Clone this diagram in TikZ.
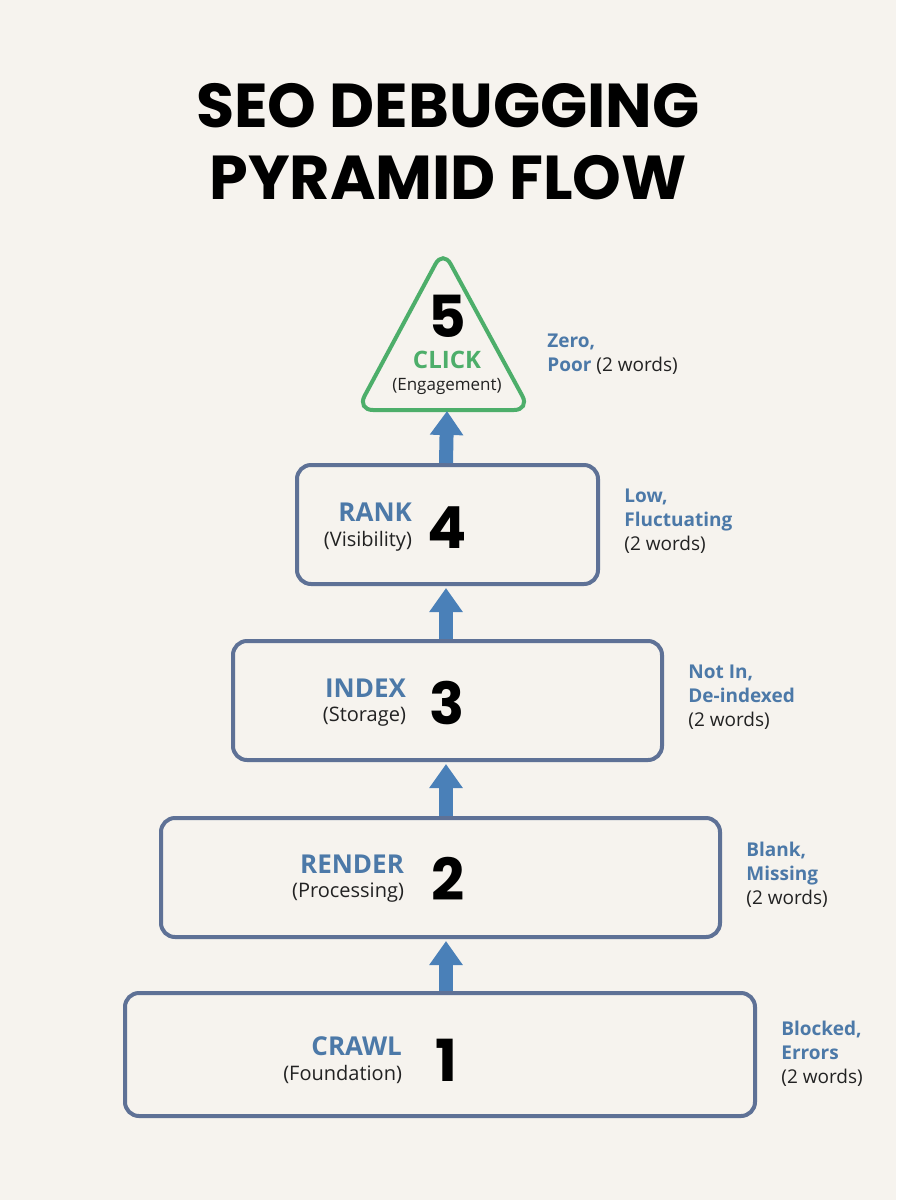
\documentclass[tikz,border=0pt]{standalone}
\usepackage{fontspec}
\setmainfont{Open Sans}
\newfontfamily\titlefont{Poppins}
\usetikzlibrary{arrows.meta,calc}
\definecolor{bgc}{HTML}{F6F3EE}
\definecolor{boxc}{HTML}{5E7196}
\definecolor{arrc}{HTML}{4A80B8}
\definecolor{labc}{HTML}{4C79A8}
\definecolor{grnc}{HTML}{4DAE6A}
\definecolor{txtc}{HTML}{222222}
\tikzset{
  stage/.style={draw=boxc,line width=2pt,rounded corners=7pt,inner sep=0pt},
  upflow/.style={draw=arrc,line width=7pt,-{Triangle[width=16pt,length=12pt]}},
  stname/.style={anchor=east,text=labc,font=\bfseries\fontsize{13}{14}\selectfont},
  stsub/.style={anchor=east,text=txtc,font=\fontsize{10}{11}\selectfont},
  stnum/.style={text=black,font=\titlefont\bfseries\fontsize{29}{30}\selectfont},
  note/.style={anchor=north west,align=left,inner sep=0pt,text=txtc,font=\fontsize{9.5}{12}\selectfont},
  nb/.style={text=labc,font=\bfseries}
}
\begin{document}
\begin{tikzpicture}[x=0.5pt,y=-0.5pt]
\useasboundingbox[fill=bgc] (0,0) rectangle (896,1200);
\node[font=\titlefont\bfseries\fontsize{31}{36}\selectfont,align=center] (title) at (448,142) {SEO DEBUGGING\\PYRAMID FLOW};
% stages
\node[stage,minimum width=315pt,minimum height=61.5pt] (s1) at (440,1054.5) {};
\node[stage,minimum width=279.5pt,minimum height=59.5pt] (s2) at (440.5,877.5) {};
\node[stage,minimum width=214.5pt,minimum height=59.5pt] (s3) at (447.5,700.5) {};
\node[stage,minimum width=150.5pt,minimum height=59.5pt] (s4) at (447.5,524.5) {};
% top triangle
\coordinate (t0) at (443,250);
\coordinate (tl) at (357,410);
\coordinate (tr) at (530,410);
\draw[grnc,line width=2pt,rounded corners=8pt,fill=bgc] (t0) -- (tr) -- (tl) -- cycle;
\node[stnum] (n5) at (447,316) {5};
\node[text=grnc,font=\bfseries\fontsize{12}{13}\selectfont] (c5) at (447,360) {CLICK};
\node[text=txtc,font=\fontsize{8.5}{10}\selectfont] (e5) at (447,386) {(Engagement)};
% stage texts
\node[stnum] (n1) at (446,1060) {1};
\node[stname] (c1) at (409,1046) {CRAWL};
\node[stsub] (e1) at (409,1074) {(Foundation)};
\node[stnum] (n2) at (448,879) {2};
\node[stname] (c2) at (411,864) {RENDER};
\node[stsub] (e2) at (411,893) {(Processing)};
\node[stnum] (n3) at (447,703) {3};
\node[stname] (c3) at (413,688) {INDEX};
\node[stsub] (e3) at (413,717) {(Storage)};
\node[stnum] (n4) at (447,528) {4};
\node[stname] (c4) at (419,512) {RANK};
\node[stsub] (e4) at (419,541) {(Visibility)};
% flow arrows
\draw[upflow] (s1.north -| n1) -- ($(s2.south -| n1)+(0,2)$);
\draw[upflow] (s2.north -| n1) -- ($(s3.south -| n1)+(0,2)$);
\draw[upflow] (s3.north -| n1) -- ($(s4.south -| n1)+(0,2)$);
\draw[upflow] (s4.north -| n1) -- (447,411);
% notes
\node[note] (r1) at (781,1021) {{\color{labc}\bfseries Blocked,}\\{\color{labc}\bfseries Errors}\\(2 words)};
\node[note] (r2) at (746,842) {{\color{labc}\bfseries Blank,}\\{\color{labc}\bfseries Missing}\\(2 words)};
\node[note] (r3) at (688,665) {{\color{labc}\bfseries Not In,}\\{\color{labc}\bfseries De-indexed}\\(2 words)};
\node[note] (r4) at (624,489) {{\color{labc}\bfseries Low,}\\{\color{labc}\bfseries Fluctuating}\\(2 words)};
\node[note] (r5) at (547,334) {{\color{labc}\bfseries Zero,}\\{\color{labc}\bfseries Poor} (2 words)};
\end{tikzpicture}
\end{document}
